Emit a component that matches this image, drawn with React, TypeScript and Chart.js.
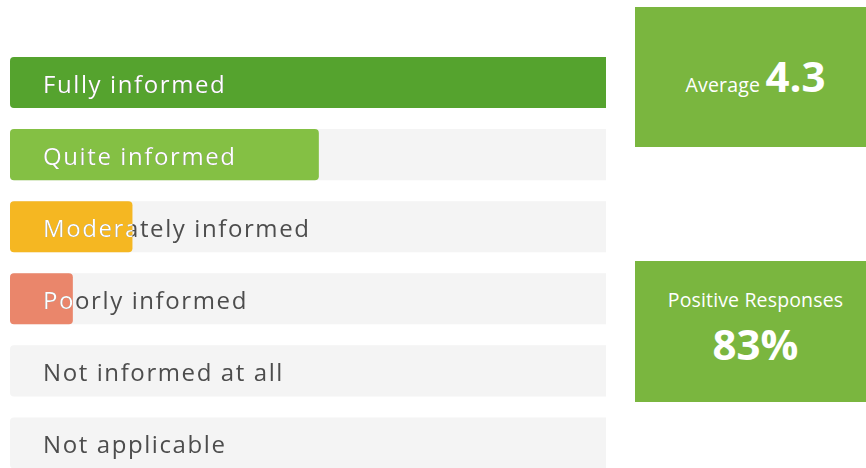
import React, { useEffect, useRef } from "react";
import { Chart, registerables } from "chart.js";

Chart.register(...registerables);

const categories = [
  "Fully informed",
  "Quite informed",
  "Moderately informed",
  "Poorly informed",
  "Not informed at all",
  "Not applicable",
];
const values = [55, 28.5, 11.3, 5.8, 0, 0];
const barColors = ["#55a32e", "#84c044", "#f5b722", "#ea866b", "#cccccc", "#cccccc"];
const axisMax = 55;
const trackValues = categories.map(() => axisMax);
const averageValue = "4.3";
const positiveValue = "83%";

const FONT = "'Open Sans', 'Noto Sans', sans-serif";

const labelPlugin = {
  id: "insideLabels",
  afterDatasetsDraw(chart: any) {
    const ctx = chart.ctx;
    const meta = chart.getDatasetMeta(0);
    const area = chart.chartArea;
    ctx.save();
    ctx.font = `24px ${FONT}`;
    (ctx as any).letterSpacing = "1.6px";
    ctx.textBaseline = "alphabetic";
    ctx.textAlign = "left";
    meta.data.forEach((bar: any, i: number) => {
      const tx = area.left + 33;
      const ty = bar.y + 10.5;
      ctx.fillStyle = "#4d4d4d";
      ctx.fillText(categories[i], tx, ty);
      const w = bar.x - bar.base;
      if (w > 0) {
        ctx.save();
        ctx.beginPath();
        ctx.rect(bar.base, bar.y - bar.height / 2, w, bar.height);
        ctx.clip();
        ctx.fillStyle = "#ffffff";
        ctx.fillText(categories[i], tx, ty);
        ctx.restore();
      }
    });
    ctx.restore();
  },
};

export default function App() {
  const ref = useRef<HTMLCanvasElement | null>(null);
  useEffect(() => {
    if (!ref.current) return;
    const chart = new Chart(ref.current, {
      type: "bar",
      data: {
        labels: categories,
        datasets: [
          {
            data: values,
            backgroundColor: barColors,
            borderRadius: (c: any) =>
              c.raw >= axisMax
                ? { topLeft: 4, bottomLeft: 4, topRight: 0, bottomRight: 0 }
                : 4,
            borderSkipped: false,
            grouped: false,
            order: 0,
            barPercentage: 1,
            categoryPercentage: 0.708,
          } as any,
          {
            data: trackValues,
            backgroundColor: "#f4f4f4",
            borderRadius: { topLeft: 4, bottomLeft: 4, topRight: 0, bottomRight: 0 },
            borderSkipped: false,
            grouped: false,
            order: 1,
            barPercentage: 1,
            categoryPercentage: 0.708,
          } as any,
        ],
      },
      options: {
        indexAxis: "y",
        animation: false,
        responsive: false,
        maintainAspectRatio: false,
        layout: { padding: { left: 10, top: 46.5, right: 0, bottom: 0 } },
        plugins: { legend: { display: false }, tooltip: { enabled: false } },
        scales: {
          x: { display: false, min: 0, max: axisMax },
          y: { display: false },
        },
      },
      plugins: [labelPlugin],
    });
    return () => chart.destroy();
  }, []);

  const boxStyle: React.CSSProperties = {
    position: "absolute",
    left: 635,
    width: 241,
    height: 140,
    background: "#7ab63f",
    color: "#ffffff",
    fontFamily: FONT,
    textAlign: "center",
  };

  return (
    <div style={{ position: "fixed", left: 0, top: 0, width: 866, height: 468, overflow: "hidden", background: "#fff" }}>
      <canvas ref={ref} width={606} height={479} style={{ position: "absolute", left: 0, top: 0, width: 606, height: 479 }} />
      <div style={{ ...boxStyle, top: 7 }}>
        <div style={{ position: "absolute", left: 0, right: 0, top: 41, lineHeight: "56px", whiteSpace: "nowrap" }}>
          <span style={{ fontSize: 19.5, letterSpacing: 0.2 }}>Average </span>
          <span style={{ fontSize: 42, fontWeight: 700 }}>{averageValue}</span>
        </div>
      </div>
      <div style={{ ...boxStyle, top: 261, height: 141 }}>
        <div style={{ position: "absolute", left: 0, right: 0, top: 26, fontSize: 19.5, letterSpacing: 0.15, lineHeight: "26px", whiteSpace: "nowrap" }}>
          Positive Responses
        </div>
        <div style={{ position: "absolute", left: 0, right: 0, top: 55, fontSize: 42, fontWeight: 700, lineHeight: "56px" }}>
          {positiveValue}
        </div>
      </div>
    </div>
  );
}
